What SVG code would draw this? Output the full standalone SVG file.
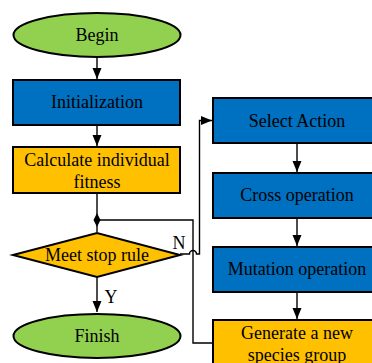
<svg xmlns="http://www.w3.org/2000/svg" width="372" height="363" viewBox="0 0 372 363">
<defs>
<style>
.sh{stroke:#000;stroke-width:2}
.g{fill:#92D050}
.b{fill:#0070C0}
.o{fill:#FFC000}
.t{font-family:"Liberation Serif","DejaVu Serif",serif;font-size:18px;fill:#000;text-anchor:middle}
.c{fill:none;stroke:#000;stroke-width:1.4}
</style>
<marker id="ah" markerUnits="userSpaceOnUse" markerWidth="12" markerHeight="10" refX="11" refY="5" orient="auto">
<path d="M0,0.5 L11,5 L0,9.5 Z" fill="#000"/>
</marker>
</defs>
<g id="connectors">
<path class="c" d="M97,57 V79" marker-end="url(#ah)"/>
<path class="c" d="M97,125 V146" marker-end="url(#ah)"/>
<path class="c" d="M97,193 V232"/>
<path class="c" d="M97,277 V312" marker-end="url(#ah)"/>
<path class="c" d="M297,143 V172" marker-end="url(#ah)"/>
<path class="c" d="M297,218 V246" marker-end="url(#ah)"/>
<path class="c" d="M297,292 V319" marker-end="url(#ah)"/>
<path class="c" d="M180,254 H189.5 A3.5,3.5 0 0 1 196.5,254 H199.5 V120.5 H212" marker-end="url(#ah)"/>
<path class="c" d="M213,343 H193 V220 H97"/>
<path d="M97,213 L100.5,220 L97,227 L93.5,220 Z" fill="#000"/>
</g>
<g id="begin">
<ellipse class="sh g" cx="97" cy="35" rx="83.5" ry="22"/>
<text class="t" x="97" y="41">Begin</text>
</g>
<g id="init">
<rect class="sh b" x="13" y="80" width="167" height="45"/>
<text class="t" x="97" y="108">Initialization</text>
</g>
<g id="calc">
<rect class="sh o" x="13" y="147" width="167" height="46"/>
<text class="t" x="97" y="166">Calculate individual</text>
<text class="t" x="97" y="188">fitness</text>
</g>
<g id="stop">
<polygon class="sh o" points="13,255 97,233 180,255 97,277"/>
<text class="t" x="97" y="261">Meet stop rule</text>
</g>
<g id="finish">
<ellipse class="sh g" cx="97" cy="336" rx="83.5" ry="22"/>
<text class="t" x="97" y="342">Finish</text>
</g>
<text class="t" x="111" y="303">Y</text>
<text class="t" x="179" y="249">N</text>
<g id="select">
<rect class="sh b" x="213" y="98" width="168" height="45"/>
<text class="t" x="297" y="127">Select Action</text>
</g>
<g id="cross">
<rect class="sh b" x="213" y="173" width="168" height="45"/>
<text class="t" x="297" y="201">Cross operation</text>
</g>
<g id="mutation">
<rect class="sh b" x="213" y="247" width="168" height="45"/>
<text class="t" x="297" y="275">Mutation operation</text>
</g>
<g id="generate">
<rect class="sh o" x="213" y="320" width="168" height="46"/>
<text class="t" x="297" y="339">Generate a new</text>
<text class="t" x="297" y="361">species group</text>
</g>
</svg>
